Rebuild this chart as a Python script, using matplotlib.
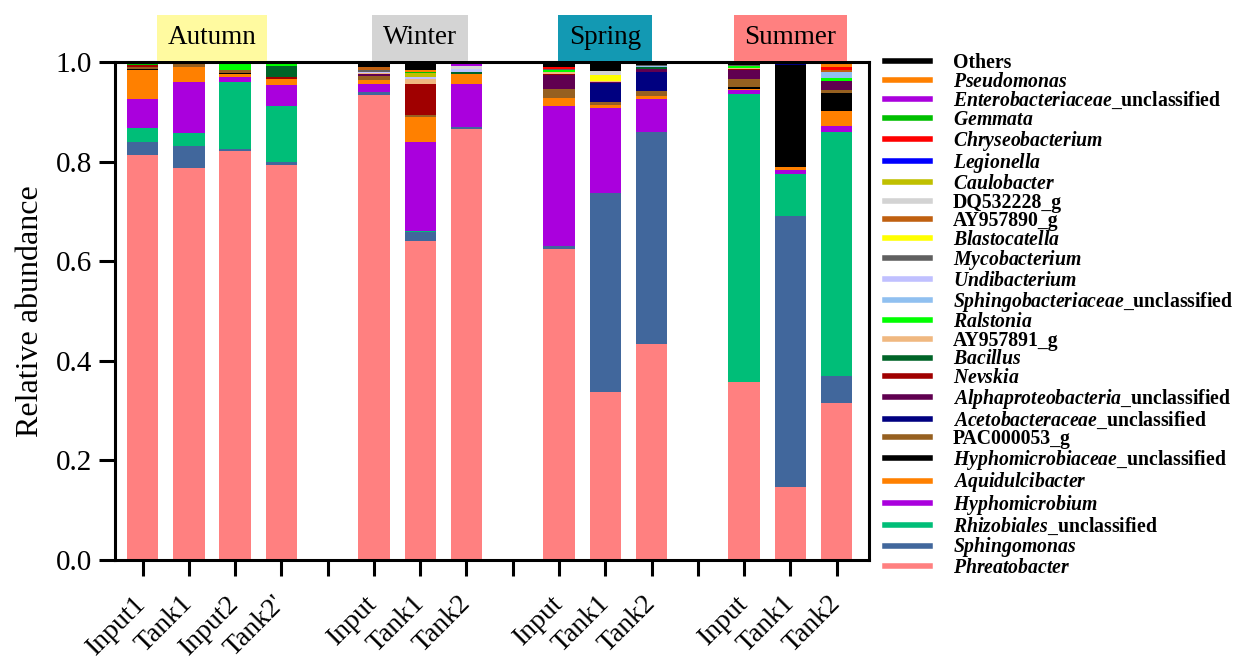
import matplotlib
matplotlib.use('Agg')
import matplotlib.pyplot as plt
from matplotlib.lines import Line2D

plt.rcParams['font.family'] = ['Liberation Serif', 'DejaVu Serif']
plt.rcParams['mathtext.fontset'] = 'custom'
plt.rcParams['mathtext.it'] = 'Liberation Serif:italic:bold'
plt.rcParams['mathtext.rm'] = 'Liberation Serif:bold'
plt.rcParams['mathtext.bf'] = 'Liberation Serif:bold'

# sample order: Autumn(4), Winter(3), Spring(3), Summer(3)
samples = ['Input1', 'Tank1', 'Input2', "Tank2'", 'Input', 'Tank1', 'Tank2',
           'Input', 'Tank1', 'Tank2', 'Input', 'Tank1', 'Tank2']
xpos = [0, 1, 2, 3, 5, 6, 7, 9, 10, 11, 13, 14, 15]
seasons = ['Autumn', 'Winter', 'Spring', 'Summer']
season_centers = [1.5, 6, 10, 14]
season_colors = ['#FFFAA0', '#D4D4D4', '#1399B3', '#FF8080']

# relative abundances, bottom of stack first
phreatobacter = [0.813, 0.788, 0.822, 0.793, 0.935, 0.641, 0.865, 0.624, 0.337, 0.434, 0.357, 0.147, 0.315]
sphingomonas = [0.027, 0.043, 0.003, 0.007, 0.006, 0.017, 0.004, 0.007, 0.401, 0.426, 0.0, 0.544, 0.055]
rhizobiales = [0.028, 0.026, 0.135, 0.112, 0.0, 0.002, 0.0, 0.0, 0.0, 0.0, 0.580, 0.085, 0.490]
hyphomicrobium = [0.059, 0.103, 0.011, 0.042, 0.015, 0.180, 0.088, 0.281, 0.170, 0.066, 0.007, 0.008, 0.011]
aquidulcibacter = [0.057, 0.031, 0.005, 0.012, 0.009, 0.050, 0.020, 0.016, 0.006, 0.007, 0.003, 0.006, 0.031]
hyphomicrobiaceae = [0.003, 0, 0.002, 0, 0, 0, 0, 0, 0, 0, 0.004, 0.204, 0.036]
pac000053 = [0.004, 0.005, 0.007, 0, 0.008, 0.004, 0, 0.018, 0.006, 0.009, 0.016, 0, 0.007]
acetobacteraceae = [0, 0, 0, 0, 0, 0, 0, 0, 0.038, 0.039, 0, 0.002, 0]
alphaproteobacteria = [0, 0, 0, 0, 0.003, 0, 0, 0.028, 0.002, 0.005, 0.018, 0.002, 0.017]
nevskia = [0.003, 0, 0, 0.004, 0, 0.063, 0, 0.003, 0, 0, 0.001, 0, 0]
bacillus = [0, 0.001, 0, 0.022, 0, 0, 0.004, 0, 0, 0.004, 0, 0, 0]
ay957891 = [0, 0, 0, 0, 0.003, 0.010, 0, 0.004, 0.002, 0, 0.002, 0, 0]
ralstonia = [0, 0, 0.011, 0.005, 0, 0, 0, 0.003, 0, 0, 0.004, 0, 0.006]
sphingobacteriaceae = [0, 0, 0, 0.002, 0, 0, 0, 0, 0, 0.003, 0, 0, 0.012]
undibacterium = [0, 0, 0, 0, 0.002, 0.004, 0.006, 0, 0, 0, 0, 0, 0]
mycobacterium = [0, 0, 0, 0, 0.004, 0, 0, 0.003, 0, 0.002, 0.003, 0, 0]
blastocatella = [0, 0, 0, 0, 0, 0, 0, 0, 0.012, 0, 0, 0, 0]
ay957890 = [0, 0, 0, 0, 0.005, 0, 0, 0, 0, 0, 0, 0, 0.004]
dq532228 = [0, 0, 0, 0, 0, 0, 0.005, 0, 0.008, 0, 0, 0, 0]
caulobacter = [0, 0, 0, 0, 0, 0.008, 0, 0, 0, 0, 0, 0, 0]
legionella = [0, 0, 0, 0, 0, 0, 0, 0, 0, 0, 0, 0, 0]
chryseobacterium = [0, 0, 0, 0, 0, 0, 0, 0.003, 0, 0, 0, 0, 0.007]
gemmata = [0.002, 0.002, 0, 0, 0, 0.002, 0, 0, 0, 0, 0, 0, 0]
enterobacteriaceae = [0, 0, 0, 0, 0, 0, 0.006, 0, 0, 0, 0, 0, 0]
pseudomonas = [0, 0, 0, 0, 0, 0.003, 0, 0, 0, 0, 0, 0, 0.005]
others = [0.004, 0.001, 0.004, 0.001, 0.010, 0.016, 0.002, 0.010, 0.018, 0.005, 0.005, 0.002, 0.004]

taxa = [
    (r'$\mathit{Phreatobacter}$', '#FF8080', phreatobacter),
    (r'$\mathit{Sphingomonas}$', '#41679C', sphingomonas),
    (r'$\mathit{Rhizobiales}$_unclassified', '#00BE78', rhizobiales),
    (r'$\mathit{Hyphomicrobium}$', '#AA00DD', hyphomicrobium),
    (r'$\mathit{Aquidulcibacter}$', '#FF8000', aquidulcibacter),
    (r'$\mathit{Hyphomicrobiaceae}$_unclassified', '#000000', hyphomicrobiaceae),
    ('PAC000053_g', '#966020', pac000053),
    (r'$\mathit{Acetobacteraceae}$_unclassified', '#000080', acetobacteraceae),
    (r'$\mathit{Alphaproteobacteria}$_unclassified', '#600050', alphaproteobacteria),
    (r'$\mathit{Nevskia}$', '#A00000', nevskia),
    (r'$\mathit{Bacillus}$', '#006428', bacillus),
    ('AY957891_g', '#F0B880', ay957891),
    (r'$\mathit{Ralstonia}$', '#00FF00', ralstonia),
    (r'$\mathit{Sphingobacteriaceae}$_unclassified', '#90C0F0', sphingobacteriaceae),
    (r'$\mathit{Undibacterium}$', '#C0C0FF', undibacterium),
    (r'$\mathit{Mycobacterium}$', '#606060', mycobacterium),
    (r'$\mathit{Blastocatella}$', '#FFFF00', blastocatella),
    ('AY957890_g', '#C06010', ay957890),
    ('DQ532228_g', '#D3D3D3', dq532228),
    (r'$\mathit{Caulobacter}$', '#C0C000', caulobacter),
    (r'$\mathit{Legionella}$', '#0000FF', legionella),
    (r'$\mathit{Chryseobacterium}$', '#FF0000', chryseobacterium),
    (r'$\mathit{Gemmata}$', '#00C000', gemmata),
    (r'$\mathit{Enterobacteriaceae}$_unclassified', '#AA00DD', enterobacteriaceae),
    (r'$\mathit{Pseudomonas}$', '#FF8000', pseudomonas),
    ('Others', '#000000', others),
]

fig = plt.figure(figsize=(12.36, 6.62), dpi=100)
ax = fig.add_axes([0.093, 0.154, 0.610, 0.752])

bottom = [0.0] * len(xpos)
for label, color, vals in taxa:
    ax.bar(xpos, vals, width=0.68, bottom=bottom, color=color, edgecolor='none')
    bottom = [b + v for b, v in zip(bottom, vals)]

ax.set_xlim(-0.6, 15.7)
ax.set_ylim(0, 1.0)
ax.set_yticks([0, 0.2, 0.4, 0.6, 0.8, 1.0])
ax.set_yticklabels(['0.0', '0.2', '0.4', '0.6', '0.8', '1.0'])

ticklabels = [''] * 16
for p, s in zip(xpos, samples):
    ticklabels[p] = s
ax.set_xticks(range(16))
ax.set_xticklabels(ticklabels, rotation=45, ha='right', va='center',
                   rotation_mode='anchor')

ax.tick_params(axis='both', direction='out', length=11.5, width=2.2, labelsize=21)
ax.tick_params(axis='x', pad=17, labelsize=20)
ax.tick_params(axis='y', pad=5)
for sp in ax.spines.values():
    sp.set_linewidth(2.2)

ax.set_ylabel('Relative abundance', fontsize=23, labelpad=8)

for name, cx, c in zip(seasons, season_centers, season_colors):
    ax.annotate(name, xy=(cx, 1.0), xycoords=('data', 'axes fraction'),
                xytext=(0, 8.5), textcoords='offset points', ha='center', va='bottom',
                fontsize=19.5, annotation_clip=False,
                bbox=dict(boxstyle='square,pad=0.4', fc=c, ec='none'))

handles = [Line2D([], [], color=c, lw=4) for _, c, _ in taxa][::-1]
labels = [l for l, _, _ in taxa][::-1]
fig.legend(handles, labels, loc='upper left', bbox_to_anchor=(0.716, 0.92),
           frameon=False, borderpad=0, borderaxespad=0, handlelength=2.3,
           handletextpad=1.15, labelspacing=-0.07,
           prop={'family': 'Liberation Serif', 'weight': 'bold', 'size': 14.2})

fig.savefig('out.png', dpi=100)
